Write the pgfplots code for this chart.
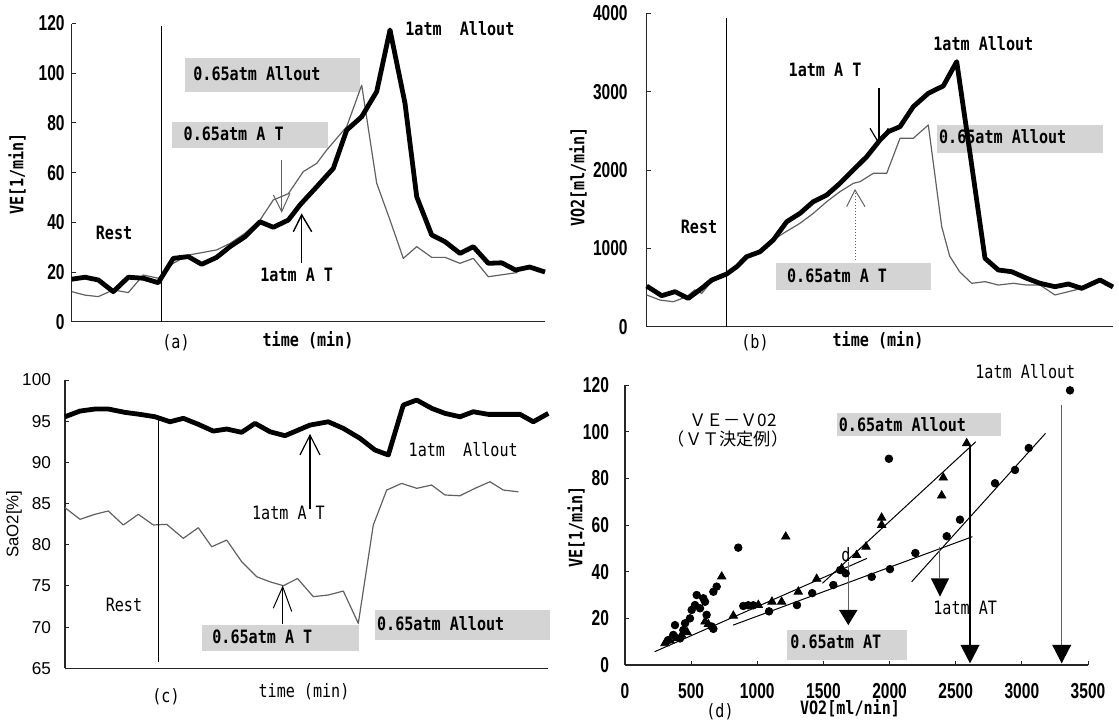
\documentclass[border=0pt]{standalone}
\usepackage{pgfplots}
\pgfplotsset{compat=1.18}
\usepackage{fontspec}
\setmainfont{DejaVu Sans Mono}
\newfontfamily\lab[FakeStretch=0.82]{DejaVu Sans Mono}
\newfontfamily\tickf[FakeStretch=0.72]{Liberation Sans}
\newfontfamily\arialf{Liberation Sans}
\newfontfamily\cjk{Noto Sans CJK JP}
\newcommand\LB{\lab\bfseries\fontsize{9.2}{10}\selectfont}
\newcommand\LR{\lab\fontsize{9.2}{10}\selectfont}
\newcommand\TK{\tickf\bfseries\fontsize{10.8}{11}\selectfont}
\newcommand\TC{\arialf\fontsize{8.6}{9}\selectfont}
\definecolor{boxg}{gray}{0.83}
\definecolor{thingray}{gray}{0.38}
\pgfplotsset{
 base/.style={scale only axis, anchor=south west, axis x line=bottom, axis y line=left,
   axis line style={-,black!85,line width=0.6pt}, tick align=inside, major tick length=2pt,
   tick style={black!85,line width=0.5pt}, xtick=\empty, clip=false, scaled ticks=false,
   /pgf/number format/1000 sep={}, /pgf/number format/assume math mode=true,
   yticklabel style={font=\TK}, xticklabel style={font=\TK}},
 thickline/.style={black, line width=2.4pt, line join=round, mark=none},
 thinline/.style={thingray, line width=0.6pt, line join=round, mark=none},
}
\begin{document}
\begin{tikzpicture}
\path[use as bounding box] (0,0) rectangle (559.5pt,-362.5pt);
% gray label boxes (behind)
\begin{scope}[x=0.5pt,y=-0.5pt]
\fill[boxg] (185,58.3) rectangle (360,91.7);
\fill[boxg] (171.7,121.7) rectangle (328.3,148.3);
\fill[boxg] (936.7,125) rectangle (1103,153);
\fill[boxg] (776,263) rectangle (931,290);
\fill[boxg] (201.7,625) rectangle (358.8,651);
\fill[boxg] (375,610) rectangle (550,640);
\fill[boxg] (836.7,413) rectangle (1000.9,436);
\fill[boxg] (786.7,630) rectangle (906.7,660);
\end{scope}

% ---------- (a) ----------
\begin{axis}[base, at={(35.85pt,-160.85pt)}, width=236.65pt, height=149.1pt,
  xmin=0, xmax=473.3, ymin=0, ymax=120, ytick={0,20,...,120}]
\addplot[thinline] table {
0 12.1
13.3 10.7
26.6 10.1
41.6 12.8
56.6 11.7
71.6 18.8
86.6 17.5
101.6 23.5
116.6 26.8
145 28.9
158.3 31.5
173.3 35.6
188.3 40.9
201.6 49.0
216.6 51.5
231.6 60.4
245 63.7
255 69.1
275 78.5
290 95.2
305 55.7
318.3 40.9
331.6 25.5
345 30.2
360 25.9
373.3 25.9
388.3 23.5
401.6 25.5
416.6 18.1
445.9 19.8
};
\addplot[thickline] table {
0 17.1
13.3 17.9
26.6 16.8
41.6 12.1
56.6 17.9
71.6 17.5
86.6 15.7
101.6 25.5
116.6 26.2
130 23.1
145 25.9
158.3 30.2
173.3 34.2
188.3 40.2
201.6 38.0
216.6 40.9
228.3 47.0
245 54.3
261.6 61.7
275 77.1
290 82.5
305 92.6
318.3 117.4
333.3 87.9
345 50.3
360 34.9
373.3 32.2
388.3 27.5
401.6 30.2
416.6 23.5
430 23.7
443.8 20.8
458 22.0
473.3 20.0
};
\draw[black,line width=0.5pt] (axis cs:89.3,0) -- (axis cs:89.3,119);
\draw[thingray,line width=0.5pt] (axis cs:210,65) -- (axis cs:210,44.3);
\draw[thingray,line width=0.5pt] (axis cs:201.6,51) -- (axis cs:210,44.3) -- (axis cs:218.3,51.7);
\draw[black,line width=0.7pt] (axis cs:230,23.6) -- (axis cs:230,43);
\draw[black,line width=0.7pt] (axis cs:221.6,36.2) -- (axis cs:230,43) -- (axis cs:240,36.2);
\end{axis}

% ---------- (b) ----------
\begin{axis}[base, at={(323.35pt,-163.35pt)}, width=233.15pt, height=156.7pt,
  xmin=0, xmax=466.3, ymin=0, ymax=4000, ytick={0,1000,...,4000},
  yticklabel style={xshift=-6pt}]
\addplot[thinline] table {
0 405
13.3 340
26.6 319
40 383
48 470
55 426
63.3 553
80 673
90 766
100 894
113.3 957
126.6 1107
136.6 1192
153.3 1320
166.6 1447
180 1596
193.3 1724
206.6 1830
213.3 1851
226.6 1958
240 1958
253.3 2405
266.6 2405
281.6 2575
295 1277
303 900
313 700
325 554
338.3 575
351.6 532
366.6 554
380 532
393.3 532
408.3 405
421.6 447
435 490
};
\addplot[thickline] table {
0 519
15 396
28.3 447
41.6 362
55 490
65 596
80 673
90 766
100 894
113.3 957
126.6 1107
140 1340
153.3 1447
166.6 1596
180 1681
193.3 1830
206.6 2000
220 2170
233.3 2383
241.6 2490
253.3 2553
266.6 2809
281.6 2979
296.6 3073
310 3383
323.3 2213
338.3 873
351.6 724
365 702
380 618
393.3 554
408.3 511
421.6 545
435 490
453.3 596
466.3 507
};
\draw[black,line width=0.5pt] (axis cs:80,0) -- (axis cs:80,3940);
\draw[black,line width=0.6pt] (axis cs:232.3,3043) -- (axis cs:232.3,2341);
\draw[black,line width=0.6pt] (axis cs:223.3,2533) -- (axis cs:232.3,2341) -- (axis cs:241.6,2533);
\draw[thingray,line width=0.5pt,densely dotted] (axis cs:208.3,851) -- (axis cs:208.3,1745);
\draw[thingray,line width=0.5pt] (axis cs:200,1532) -- (axis cs:208.3,1745) -- (axis cs:218.3,1532);
\end{axis}

% ---------- (c) ----------
\begin{axis}[base, at={(32.5pt,-334.15pt)}, width=241.5pt, height=144.15pt,
  xmin=0, xmax=483, ymin=65, ymax=100, ytick={65,70,...,100},
  yticklabel style={font=\TC, xshift=-3.5pt}]
\addplot[thinline] table {
0 84.5
15 83.09
30 83.7
43.3 84.1
58.3 82.4
73.3 83.7
88.3 82.4
101.7 82.48
118.3 80.78
133.3 82.07
146.7 79.76
161.7 80.57
176.7 77.94
191.7 76.12
205 75.5
218.3 75.03
232.5 75.9
248.3 73.7
263.3 73.9
278.3 74.38
293.3 70.46
308.3 82.4
321.7 86.64
336.7 87.45
351.7 86.85
366.7 87.25
380 86.04
395 85.95
410 86.85
425 87.65
438.3 86.64
453.3 86.43
};
\addplot[thickline] table {
0 95.54
15 96.23
30 96.48
43.3 96.48
60 96.07
75 95.83
90 95.54
105 94.93
118.3 95.35
133.3 94.62
148.3 93.80
161.7 94.05
176.7 93.65
190 94.74
205 93.72
220 93.24
245 94.53
263.3 94.93
278.3 94.13
295 92.92
310 91.50
323.3 90.90
338.3 96.96
351.7 97.57
366.7 96.56
380 95.95
395 95.54
408.3 96.15
423.3 95.83
438.3 95.83
455 95.83
468.3 94.93
483.3 95.95
};
\draw[black,line width=0.5pt] (axis cs:94,65.8) -- (axis cs:94,95.5);
\draw[black,line width=0.6pt] (axis cs:245,84.4) -- (axis cs:245,93.3);
\draw[black,line width=0.6pt] (axis cs:235,90.9) -- (axis cs:245,93.3) -- (axis cs:255,90.9);
\draw[black,line width=0.5pt] (axis cs:217.7,70.4) -- (axis cs:217.7,74.9);
\draw[black,line width=0.5pt] (axis cs:208.3,72.3) -- (axis cs:217.7,74.9) -- (axis cs:226.7,71.9);
\end{axis}

% ---------- (d) ----------
\begin{axis}[base, at={(312.5pt,-332.5pt)}, width=231.5pt, height=140pt,
  xmin=0, xmax=3500, ymin=0, ymax=120, ytick={0,20,...,120}, xtick={0,500,...,3500},
  yticklabel style={xshift=-4.5pt}, xticklabel style={yshift=-5.5pt}]
% fitted lines
\addplot[black, line width=0.5pt, mark=none] coordinates {(224,5.7) (1829,45.7)};
\addplot[black, line width=0.5pt, mark=none] coordinates {(817,17.1) (2626,55)};
\addplot[black, line width=0.5pt, mark=none] coordinates {(1492,35) (2652,95.7)};
\addplot[black, line width=0.5pt, mark=none] coordinates {(2167,35.7) (3179,99.3)};
% 1 atm (circles)
\addplot[only marks, mark=*, mark size=1.9pt, black] table {
327 10.7
365 12.9
378 17.1
416 11.4
441 15.0
454 17.9
491 20.0
504 23.6
529 25.7
542 30.0
567 24.3
592 28.6
605 27.1
617 21.5
655 16.5
668 15.5
668 31.4
693 33.6
856 50.3
894 25.3
932 25.6
970 25.6
1089 23.0
1300 25.7
1415 30.8
1575 34.3
1627 40.7
1668 39.3
1865 37.8
2003 41.1
2195 48.0
2432 55.2
2532 62.3
2797 77.9
2948 83.6
3052 93.0
3364 117.7
1995 88.4
};
% 0.65 atm (triangles)
\addplot[only marks, mark=triangle*, mark size=2.4pt, black] table {
302 9.3
340 10.5
391 11.4
428 12.9
470 14.0
605 18.6
630 17.5
731 37.9
819 21.1
1008 25.7
1111 27.1
1184 27.1
1310 31.4
1449 36.9
1638 41.4
1751 47.1
1822 50.7
1940 60.0
1940 63.1
2394 72.6
2406 80.3
2583 95.0
1215 55.0
};
\draw[thingray,line width=0.5pt] (axis cs:1688,44) -- (axis cs:1688,23.6);
\fill (axis cs:1618,23.6) -- (axis cs:1758,23.6) -- (axis cs:1688,17.1) -- cycle;
\draw[thingray,line width=0.5pt] (axis cs:2381,50.7) -- (axis cs:2381,37.1);
\fill (axis cs:2312,37.1) -- (axis cs:2450,37.1) -- (axis cs:2381,29.3) -- cycle;
\draw[black,line width=0.6pt] (axis cs:2608,94.3) -- (axis cs:2608,8.6);
\fill (axis cs:2536,8.6) -- (axis cs:2680,8.6) -- (axis cs:2608,0.7) -- cycle;
\draw[thingray,line width=0.5pt] (axis cs:3301,111.4) -- (axis cs:3301,8.6);
\fill (axis cs:3229,8.6) -- (axis cs:3373,8.6) -- (axis cs:3301,0.7) -- cycle;
\end{axis}

% ---------- texts ----------
\begin{scope}[x=0.5pt,y=-0.5pt,every node/.style={inner sep=0pt}]
% (a)
\node[anchor=west] at (193,74) {\LB 0.65atm Allout};
\node[anchor=west] at (183.3,134) {\LB 0.65atm A T};
\node at (114,233) {\LB Rest};
\node[anchor=west] at (260,275) {\LB 1atm A T};
\node[anchor=west] at (405,28.3) {\LB 1atm\ \ Allout};
\node at (308,340) {\LB time (min)};
\node at (176,343) {\LR (a)};
\node[rotate=90] at (17,174) {\LB VE[1/min]};
% (b)
\node[anchor=west] at (938.7,137) {\LB 0.65atm Allout};
\node[anchor=west] at (786.7,276) {\LB 0.65atm A T};
\node[anchor=west] at (788.3,70) {\LB 1atm A T};
\node[anchor=west] at (933,43.3) {\LB 1atm Allout};
\node at (699,226.7) {\LB Rest};
\node at (878,340) {\LB time (min)};
\node at (755,343) {\LR (b)};
\node[rotate=90] at (578,177) {\LB VO2[ml/min]};
% (c)
\node[anchor=west] at (212,637) {\LB 0.65atm A T};
\node[anchor=west] at (376.7,624) {\LB 0.65atm Allout};
\node[anchor=west] at (408.3,450) {\LR 1atm\ \ Allout};
\node[anchor=west] at (251.7,513.3) {\LR 1atm A T};
\node at (124,605) {\LR Rest};
\node at (304,692) {\LR time (min)};
\node at (166,697) {\LR (c)};
\node[rotate=90] at (14,524) {\arialf\fontsize{8.4}{9}\selectfont SaO2[\%]};
% (d)
\node[anchor=west] at (838.5,425) {\LB 0.65atm Allout};
\node[anchor=west] at (790,642) {\LB 0.65atm AT};
\node[anchor=west] at (933,608.3) {\LR 1atm AT};
\node[anchor=west] at (975,372) {\LR 1atm Allout};
\node at (733,420) {\cjk\fontsize{8.6}{9}\selectfont ＶＥ－Ｖ02};
\node at (728,439) {\cjk\fontsize{8.6}{9}\selectfont （ＶＴ決定例）};
\node at (846,555) {\LR d};
\node at (850,708) {\LB VO2[ml/nin]};
\node at (720,712) {\LR (d)};
\node[rotate=90] at (576,527) {\LB VE[1/min]};
\end{scope}
\end{tikzpicture}
\end{document}
